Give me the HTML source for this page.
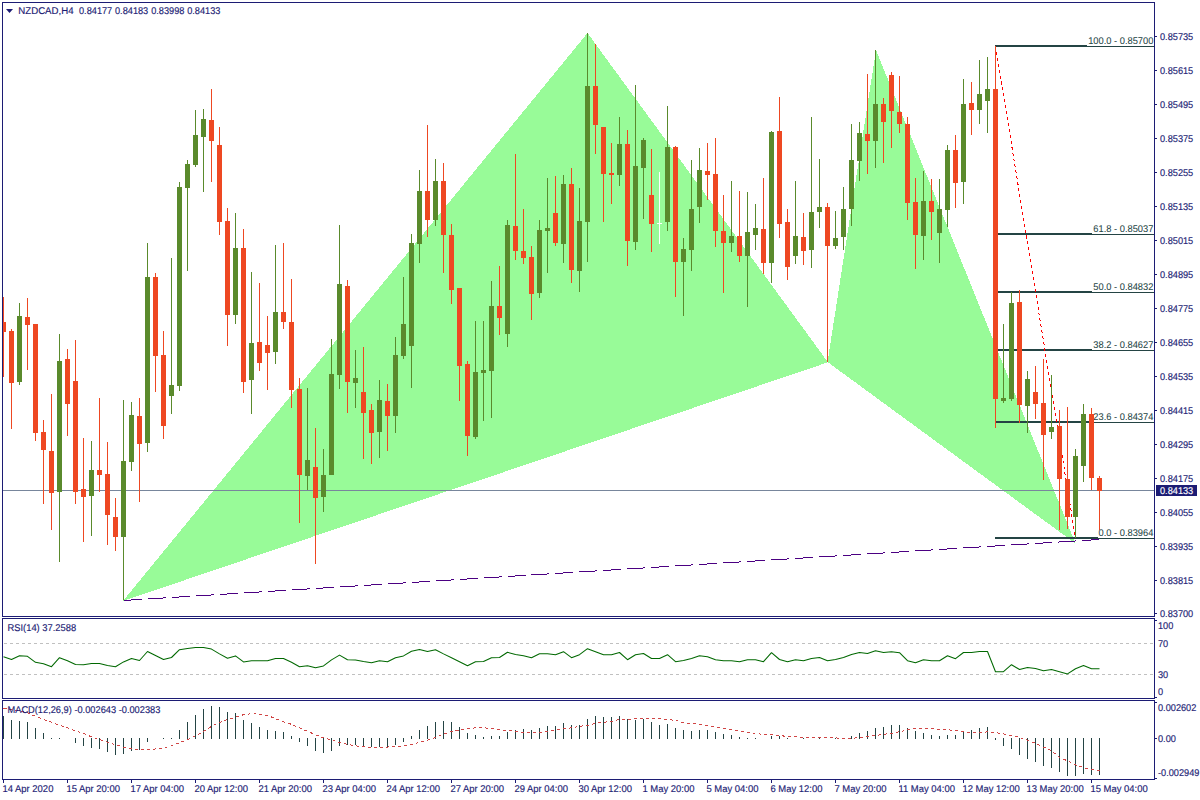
<!DOCTYPE html><html><head><meta charset="utf-8"><title>NZDCAD,H4</title>
<style>html,body{margin:0;padding:0;background:#fff;}body{width:1200px;height:800px;overflow:hidden;position:relative;}svg{position:absolute;left:0;top:0;display:block;}text{font-family:"Liberation Sans",sans-serif;font-size:9.8px;fill:#1c1c74;text-rendering:geometricPrecision;stroke:#1c1c74;stroke-width:0.15px;}.f{fill:#244444;stroke:#244444;stroke-width:0.05px;}.w{fill:#fff;}</style></head><body>
<svg width="1200" height="800" viewBox="0 0 1200 800">
<rect x="0" y="0" width="1200" height="800" fill="#fff"/>
<defs><clipPath id="cm"><rect x="3" y="3" width="1151" height="613"/></clipPath></defs>
<g shape-rendering="crispEdges">
<g clip-path="url(#cm)">
<polygon points="123,601 587.5,33 828,362.3" fill="#98fb98"/>
<polygon points="827.5,362 876,50 1075.5,543.5" fill="#98fb98"/>
<rect x="3" y="490" width="1151" height="1" fill="#78869c"/>
<line x1="123.5" y1="600.5" x2="1099" y2="539.5" stroke="#4b0082" stroke-width="1" stroke-dasharray="18 6" stroke-dashoffset="-0.8"/>
<rect x="995" y="45" width="92" height="2" fill="#244444"/>
<rect x="1087" y="46" width="67" height="1" fill="#244444"/>
<rect x="995" y="233" width="97" height="2" fill="#244444"/>
<rect x="1092" y="234" width="62" height="1" fill="#244444"/>
<rect x="995" y="291" width="97" height="2" fill="#244444"/>
<rect x="1092" y="292" width="62" height="1" fill="#244444"/>
<rect x="995" y="349" width="97" height="2" fill="#244444"/>
<rect x="1092" y="350" width="62" height="1" fill="#244444"/>
<rect x="995" y="421" width="97" height="2" fill="#244444"/>
<rect x="1092" y="422" width="62" height="1" fill="#244444"/>
<rect x="995" y="537" width="103" height="2" fill="#244444"/>
<rect x="1098" y="538" width="56" height="1" fill="#244444"/>
<line x1="995.5" y1="46" x2="1075.5" y2="538" stroke="#ff0000" stroke-width="1" stroke-dasharray="3 3"/>
<rect x="3" y="297" width="1" height="80" fill="#ee4822"/>
<rect x="1" y="322" width="5" height="10" fill="#ee4822"/>
<rect x="11" y="329" width="1" height="100" fill="#ee4822"/>
<rect x="9" y="331" width="5" height="52" fill="#ee4822"/>
<rect x="19" y="303" width="1" height="82" fill="#5a8a2c"/>
<rect x="17" y="316" width="5" height="66" fill="#5a8a2c"/>
<rect x="27" y="298" width="1" height="72" fill="#ee4822"/>
<rect x="25" y="317" width="5" height="8" fill="#ee4822"/>
<rect x="35" y="324" width="1" height="117" fill="#ee4822"/>
<rect x="33" y="324" width="5" height="109" fill="#ee4822"/>
<rect x="43" y="420" width="1" height="84" fill="#ee4822"/>
<rect x="41" y="432" width="5" height="18" fill="#ee4822"/>
<rect x="51" y="394" width="1" height="136" fill="#ee4822"/>
<rect x="49" y="451" width="5" height="42" fill="#ee4822"/>
<rect x="59" y="334" width="1" height="228" fill="#5a8a2c"/>
<rect x="57" y="361" width="5" height="131" fill="#5a8a2c"/>
<rect x="67" y="349" width="1" height="87" fill="#ee4822"/>
<rect x="65" y="359" width="5" height="45" fill="#ee4822"/>
<rect x="75" y="340" width="1" height="164" fill="#ee4822"/>
<rect x="73" y="381" width="5" height="111" fill="#ee4822"/>
<rect x="83" y="438" width="1" height="104" fill="#ee4822"/>
<rect x="81" y="489" width="5" height="8" fill="#ee4822"/>
<rect x="91" y="441" width="1" height="95" fill="#5a8a2c"/>
<rect x="89" y="470" width="5" height="26" fill="#5a8a2c"/>
<rect x="99" y="398" width="1" height="94" fill="#ee4822"/>
<rect x="97" y="470" width="5" height="5" fill="#ee4822"/>
<rect x="107" y="442" width="1" height="103" fill="#ee4822"/>
<rect x="105" y="474" width="5" height="41" fill="#ee4822"/>
<rect x="115" y="498" width="1" height="53" fill="#ee4822"/>
<rect x="113" y="517" width="5" height="20" fill="#ee4822"/>
<rect x="123" y="400" width="1" height="200" fill="#5a8a2c"/>
<rect x="121" y="461" width="5" height="76" fill="#5a8a2c"/>
<rect x="131" y="402" width="1" height="69" fill="#5a8a2c"/>
<rect x="129" y="415" width="5" height="47" fill="#5a8a2c"/>
<rect x="139" y="398" width="1" height="104" fill="#ee4822"/>
<rect x="137" y="416" width="5" height="28" fill="#ee4822"/>
<rect x="147" y="243" width="1" height="209" fill="#5a8a2c"/>
<rect x="145" y="277" width="5" height="166" fill="#5a8a2c"/>
<rect x="155" y="273" width="1" height="119" fill="#ee4822"/>
<rect x="153" y="277" width="5" height="79" fill="#ee4822"/>
<rect x="163" y="331" width="1" height="108" fill="#ee4822"/>
<rect x="161" y="355" width="5" height="71" fill="#ee4822"/>
<rect x="171" y="258" width="1" height="156" fill="#5a8a2c"/>
<rect x="169" y="385" width="5" height="11" fill="#5a8a2c"/>
<rect x="179" y="182" width="1" height="209" fill="#5a8a2c"/>
<rect x="177" y="187" width="5" height="199" fill="#5a8a2c"/>
<rect x="187" y="160" width="1" height="111" fill="#5a8a2c"/>
<rect x="185" y="164" width="5" height="24" fill="#5a8a2c"/>
<rect x="195" y="110" width="1" height="57" fill="#5a8a2c"/>
<rect x="193" y="135" width="5" height="30" fill="#5a8a2c"/>
<rect x="203" y="109" width="1" height="83" fill="#5a8a2c"/>
<rect x="201" y="119" width="5" height="18" fill="#5a8a2c"/>
<rect x="211" y="89" width="1" height="93" fill="#ee4822"/>
<rect x="209" y="120" width="5" height="21" fill="#ee4822"/>
<rect x="219" y="127" width="1" height="108" fill="#ee4822"/>
<rect x="217" y="145" width="5" height="77" fill="#ee4822"/>
<rect x="227" y="208" width="1" height="138" fill="#ee4822"/>
<rect x="225" y="221" width="5" height="94" fill="#ee4822"/>
<rect x="235" y="213" width="1" height="111" fill="#5a8a2c"/>
<rect x="233" y="248" width="5" height="67" fill="#5a8a2c"/>
<rect x="243" y="229" width="1" height="164" fill="#ee4822"/>
<rect x="241" y="248" width="5" height="134" fill="#ee4822"/>
<rect x="251" y="272" width="1" height="142" fill="#5a8a2c"/>
<rect x="249" y="343" width="5" height="37" fill="#5a8a2c"/>
<rect x="259" y="283" width="1" height="88" fill="#ee4822"/>
<rect x="257" y="342" width="5" height="21" fill="#ee4822"/>
<rect x="267" y="316" width="1" height="74" fill="#ee4822"/>
<rect x="265" y="345" width="5" height="8" fill="#ee4822"/>
<rect x="275" y="245" width="1" height="119" fill="#5a8a2c"/>
<rect x="273" y="312" width="5" height="40" fill="#5a8a2c"/>
<rect x="283" y="243" width="1" height="86" fill="#ee4822"/>
<rect x="281" y="312" width="5" height="10" fill="#ee4822"/>
<rect x="291" y="279" width="1" height="129" fill="#ee4822"/>
<rect x="289" y="322" width="5" height="68" fill="#ee4822"/>
<rect x="299" y="378" width="1" height="145" fill="#ee4822"/>
<rect x="297" y="389" width="5" height="86" fill="#ee4822"/>
<rect x="307" y="388" width="1" height="102" fill="#5a8a2c"/>
<rect x="305" y="460" width="5" height="16" fill="#5a8a2c"/>
<rect x="315" y="428" width="1" height="136" fill="#ee4822"/>
<rect x="313" y="467" width="5" height="31" fill="#ee4822"/>
<rect x="323" y="449" width="1" height="63" fill="#5a8a2c"/>
<rect x="321" y="475" width="5" height="22" fill="#5a8a2c"/>
<rect x="331" y="339" width="1" height="136" fill="#5a8a2c"/>
<rect x="329" y="374" width="5" height="101" fill="#5a8a2c"/>
<rect x="339" y="225" width="1" height="164" fill="#5a8a2c"/>
<rect x="337" y="284" width="5" height="91" fill="#5a8a2c"/>
<rect x="347" y="280" width="1" height="133" fill="#ee4822"/>
<rect x="345" y="286" width="5" height="96" fill="#ee4822"/>
<rect x="355" y="350" width="1" height="58" fill="#5a8a2c"/>
<rect x="353" y="378" width="5" height="5" fill="#5a8a2c"/>
<rect x="363" y="347" width="1" height="112" fill="#ee4822"/>
<rect x="361" y="392" width="5" height="21" fill="#ee4822"/>
<rect x="371" y="404" width="1" height="60" fill="#ee4822"/>
<rect x="369" y="410" width="5" height="23" fill="#ee4822"/>
<rect x="379" y="380" width="1" height="78" fill="#5a8a2c"/>
<rect x="377" y="400" width="5" height="32" fill="#5a8a2c"/>
<rect x="387" y="384" width="1" height="67" fill="#ee4822"/>
<rect x="385" y="401" width="5" height="15" fill="#ee4822"/>
<rect x="395" y="337" width="1" height="96" fill="#5a8a2c"/>
<rect x="393" y="355" width="5" height="61" fill="#5a8a2c"/>
<rect x="403" y="277" width="1" height="82" fill="#5a8a2c"/>
<rect x="401" y="324" width="5" height="32" fill="#5a8a2c"/>
<rect x="411" y="234" width="1" height="154" fill="#5a8a2c"/>
<rect x="409" y="243" width="5" height="103" fill="#5a8a2c"/>
<rect x="419" y="170" width="1" height="93" fill="#5a8a2c"/>
<rect x="417" y="191" width="5" height="53" fill="#5a8a2c"/>
<rect x="427" y="125" width="1" height="112" fill="#ee4822"/>
<rect x="425" y="191" width="5" height="29" fill="#ee4822"/>
<rect x="435" y="159" width="1" height="67" fill="#5a8a2c"/>
<rect x="433" y="181" width="5" height="39" fill="#5a8a2c"/>
<rect x="443" y="163" width="1" height="110" fill="#ee4822"/>
<rect x="441" y="181" width="5" height="54" fill="#ee4822"/>
<rect x="451" y="224" width="1" height="80" fill="#ee4822"/>
<rect x="449" y="235" width="5" height="55" fill="#ee4822"/>
<rect x="459" y="288" width="1" height="113" fill="#ee4822"/>
<rect x="457" y="288" width="5" height="78" fill="#ee4822"/>
<rect x="467" y="361" width="1" height="95" fill="#ee4822"/>
<rect x="465" y="364" width="5" height="72" fill="#ee4822"/>
<rect x="475" y="321" width="1" height="118" fill="#5a8a2c"/>
<rect x="473" y="372" width="5" height="65" fill="#5a8a2c"/>
<rect x="483" y="321" width="1" height="100" fill="#5a8a2c"/>
<rect x="481" y="370" width="5" height="3" fill="#5a8a2c"/>
<rect x="491" y="281" width="1" height="137" fill="#5a8a2c"/>
<rect x="489" y="306" width="5" height="65" fill="#5a8a2c"/>
<rect x="499" y="266" width="1" height="69" fill="#ee4822"/>
<rect x="497" y="306" width="5" height="12" fill="#ee4822"/>
<rect x="507" y="220" width="1" height="127" fill="#5a8a2c"/>
<rect x="505" y="225" width="5" height="109" fill="#5a8a2c"/>
<rect x="515" y="154" width="1" height="106" fill="#ee4822"/>
<rect x="513" y="226" width="5" height="25" fill="#ee4822"/>
<rect x="523" y="209" width="1" height="55" fill="#ee4822"/>
<rect x="521" y="251" width="5" height="7" fill="#ee4822"/>
<rect x="531" y="246" width="1" height="74" fill="#ee4822"/>
<rect x="529" y="257" width="5" height="37" fill="#ee4822"/>
<rect x="539" y="220" width="1" height="78" fill="#5a8a2c"/>
<rect x="537" y="230" width="5" height="63" fill="#5a8a2c"/>
<rect x="547" y="178" width="1" height="95" fill="#5a8a2c"/>
<rect x="545" y="228" width="5" height="3" fill="#5a8a2c"/>
<rect x="555" y="176" width="1" height="70" fill="#ee4822"/>
<rect x="553" y="213" width="5" height="30" fill="#ee4822"/>
<rect x="563" y="175" width="1" height="88" fill="#5a8a2c"/>
<rect x="561" y="184" width="5" height="60" fill="#5a8a2c"/>
<rect x="571" y="168" width="1" height="115" fill="#ee4822"/>
<rect x="569" y="184" width="5" height="86" fill="#ee4822"/>
<rect x="579" y="188" width="1" height="104" fill="#5a8a2c"/>
<rect x="577" y="221" width="5" height="50" fill="#5a8a2c"/>
<rect x="587" y="33" width="1" height="229" fill="#5a8a2c"/>
<rect x="585" y="86" width="5" height="136" fill="#5a8a2c"/>
<rect x="595" y="44" width="1" height="110" fill="#ee4822"/>
<rect x="593" y="86" width="5" height="39" fill="#ee4822"/>
<rect x="603" y="127" width="1" height="95" fill="#ee4822"/>
<rect x="601" y="127" width="5" height="47" fill="#ee4822"/>
<rect x="611" y="143" width="1" height="61" fill="#ee4822"/>
<rect x="609" y="173" width="5" height="2" fill="#ee4822"/>
<rect x="619" y="117" width="1" height="69" fill="#5a8a2c"/>
<rect x="617" y="144" width="5" height="31" fill="#5a8a2c"/>
<rect x="627" y="130" width="1" height="136" fill="#ee4822"/>
<rect x="625" y="144" width="5" height="97" fill="#ee4822"/>
<rect x="635" y="85" width="1" height="165" fill="#5a8a2c"/>
<rect x="633" y="166" width="5" height="76" fill="#5a8a2c"/>
<rect x="643" y="138" width="1" height="81" fill="#5a8a2c"/>
<rect x="641" y="140" width="5" height="28" fill="#5a8a2c"/>
<rect x="651" y="149" width="1" height="103" fill="#ee4822"/>
<rect x="649" y="195" width="5" height="29" fill="#ee4822"/>
<rect x="659" y="172" width="1" height="72" fill="#ffffff"/>
<rect x="657" y="223" width="5" height="1" fill="#ffffff"/>
<rect x="667" y="106" width="1" height="125" fill="#5a8a2c"/>
<rect x="665" y="147" width="5" height="75" fill="#5a8a2c"/>
<rect x="675" y="146" width="1" height="151" fill="#ee4822"/>
<rect x="673" y="147" width="5" height="115" fill="#ee4822"/>
<rect x="683" y="238" width="1" height="78" fill="#5a8a2c"/>
<rect x="681" y="249" width="5" height="13" fill="#5a8a2c"/>
<rect x="691" y="160" width="1" height="111" fill="#5a8a2c"/>
<rect x="689" y="209" width="5" height="41" fill="#5a8a2c"/>
<rect x="699" y="148" width="1" height="75" fill="#5a8a2c"/>
<rect x="697" y="170" width="5" height="37" fill="#5a8a2c"/>
<rect x="707" y="143" width="1" height="57" fill="#ee4822"/>
<rect x="705" y="171" width="5" height="4" fill="#ee4822"/>
<rect x="715" y="138" width="1" height="109" fill="#ee4822"/>
<rect x="713" y="174" width="5" height="57" fill="#ee4822"/>
<rect x="723" y="195" width="1" height="98" fill="#ee4822"/>
<rect x="721" y="231" width="5" height="12" fill="#ee4822"/>
<rect x="731" y="181" width="1" height="71" fill="#5a8a2c"/>
<rect x="729" y="236" width="5" height="7" fill="#5a8a2c"/>
<rect x="739" y="191" width="1" height="71" fill="#ee4822"/>
<rect x="737" y="236" width="5" height="20" fill="#ee4822"/>
<rect x="747" y="192" width="1" height="115" fill="#5a8a2c"/>
<rect x="745" y="232" width="5" height="24" fill="#5a8a2c"/>
<rect x="755" y="204" width="1" height="46" fill="#5a8a2c"/>
<rect x="753" y="228" width="5" height="7" fill="#5a8a2c"/>
<rect x="763" y="178" width="1" height="96" fill="#ee4822"/>
<rect x="761" y="229" width="5" height="34" fill="#ee4822"/>
<rect x="771" y="131" width="1" height="152" fill="#5a8a2c"/>
<rect x="769" y="132" width="5" height="131" fill="#5a8a2c"/>
<rect x="779" y="97" width="1" height="141" fill="#ee4822"/>
<rect x="777" y="131" width="5" height="93" fill="#ee4822"/>
<rect x="787" y="209" width="1" height="71" fill="#ee4822"/>
<rect x="785" y="222" width="5" height="45" fill="#ee4822"/>
<rect x="795" y="181" width="1" height="83" fill="#5a8a2c"/>
<rect x="793" y="236" width="5" height="20" fill="#5a8a2c"/>
<rect x="803" y="213" width="1" height="52" fill="#ee4822"/>
<rect x="801" y="237" width="5" height="14" fill="#ee4822"/>
<rect x="811" y="117" width="1" height="151" fill="#5a8a2c"/>
<rect x="809" y="212" width="5" height="38" fill="#5a8a2c"/>
<rect x="819" y="159" width="1" height="69" fill="#5a8a2c"/>
<rect x="817" y="207" width="5" height="5" fill="#5a8a2c"/>
<rect x="827" y="203" width="1" height="159" fill="#ee4822"/>
<rect x="825" y="207" width="5" height="39" fill="#ee4822"/>
<rect x="835" y="211" width="1" height="38" fill="#5a8a2c"/>
<rect x="833" y="238" width="5" height="8" fill="#5a8a2c"/>
<rect x="843" y="187" width="1" height="63" fill="#5a8a2c"/>
<rect x="841" y="209" width="5" height="28" fill="#5a8a2c"/>
<rect x="851" y="124" width="1" height="102" fill="#5a8a2c"/>
<rect x="849" y="160" width="5" height="49" fill="#5a8a2c"/>
<rect x="859" y="122" width="1" height="59" fill="#5a8a2c"/>
<rect x="857" y="133" width="5" height="28" fill="#5a8a2c"/>
<rect x="867" y="74" width="1" height="100" fill="#ee4822"/>
<rect x="865" y="134" width="5" height="7" fill="#ee4822"/>
<rect x="875" y="50" width="1" height="118" fill="#5a8a2c"/>
<rect x="873" y="104" width="5" height="37" fill="#5a8a2c"/>
<rect x="883" y="98" width="1" height="65" fill="#ee4822"/>
<rect x="881" y="104" width="5" height="18" fill="#ee4822"/>
<rect x="891" y="72" width="1" height="76" fill="#ee4822"/>
<rect x="889" y="75" width="5" height="36" fill="#ee4822"/>
<rect x="899" y="76" width="1" height="57" fill="#ee4822"/>
<rect x="897" y="112" width="5" height="12" fill="#ee4822"/>
<rect x="907" y="117" width="1" height="103" fill="#ee4822"/>
<rect x="905" y="124" width="5" height="79" fill="#ee4822"/>
<rect x="915" y="178" width="1" height="91" fill="#ee4822"/>
<rect x="913" y="202" width="5" height="33" fill="#ee4822"/>
<rect x="923" y="171" width="1" height="89" fill="#5a8a2c"/>
<rect x="921" y="201" width="5" height="35" fill="#5a8a2c"/>
<rect x="931" y="179" width="1" height="61" fill="#ee4822"/>
<rect x="929" y="201" width="5" height="11" fill="#ee4822"/>
<rect x="939" y="179" width="1" height="84" fill="#5a8a2c"/>
<rect x="937" y="209" width="5" height="24" fill="#5a8a2c"/>
<rect x="947" y="145" width="1" height="82" fill="#5a8a2c"/>
<rect x="945" y="150" width="5" height="60" fill="#5a8a2c"/>
<rect x="955" y="135" width="1" height="73" fill="#ee4822"/>
<rect x="953" y="150" width="5" height="33" fill="#ee4822"/>
<rect x="963" y="79" width="1" height="125" fill="#5a8a2c"/>
<rect x="961" y="104" width="5" height="78" fill="#5a8a2c"/>
<rect x="971" y="82" width="1" height="53" fill="#ee4822"/>
<rect x="969" y="103" width="5" height="7" fill="#ee4822"/>
<rect x="979" y="60" width="1" height="64" fill="#5a8a2c"/>
<rect x="977" y="94" width="5" height="16" fill="#5a8a2c"/>
<rect x="987" y="57" width="1" height="76" fill="#5a8a2c"/>
<rect x="985" y="89" width="5" height="12" fill="#5a8a2c"/>
<rect x="995" y="46" width="1" height="382" fill="#ee4822"/>
<rect x="993" y="89" width="5" height="310" fill="#ee4822"/>
<rect x="1003" y="324" width="1" height="79" fill="#5a8a2c"/>
<rect x="1001" y="398" width="5" height="3" fill="#5a8a2c"/>
<rect x="1011" y="292" width="1" height="109" fill="#5a8a2c"/>
<rect x="1009" y="303" width="5" height="96" fill="#5a8a2c"/>
<rect x="1019" y="290" width="1" height="133" fill="#ee4822"/>
<rect x="1017" y="302" width="5" height="103" fill="#ee4822"/>
<rect x="1027" y="371" width="1" height="62" fill="#5a8a2c"/>
<rect x="1025" y="379" width="5" height="27" fill="#5a8a2c"/>
<rect x="1035" y="366" width="1" height="53" fill="#ee4822"/>
<rect x="1033" y="392" width="5" height="12" fill="#ee4822"/>
<rect x="1043" y="359" width="1" height="121" fill="#ee4822"/>
<rect x="1041" y="403" width="5" height="32" fill="#ee4822"/>
<rect x="1051" y="375" width="1" height="64" fill="#5a8a2c"/>
<rect x="1049" y="427" width="5" height="5" fill="#5a8a2c"/>
<rect x="1059" y="410" width="1" height="120" fill="#ee4822"/>
<rect x="1057" y="426" width="5" height="53" fill="#ee4822"/>
<rect x="1067" y="407" width="1" height="122" fill="#ee4822"/>
<rect x="1065" y="479" width="5" height="38" fill="#ee4822"/>
<rect x="1075" y="449" width="1" height="89" fill="#5a8a2c"/>
<rect x="1073" y="456" width="5" height="61" fill="#5a8a2c"/>
<rect x="1083" y="404" width="1" height="78" fill="#5a8a2c"/>
<rect x="1081" y="414" width="5" height="52" fill="#5a8a2c"/>
<rect x="1091" y="408" width="1" height="82" fill="#ee4822"/>
<rect x="1089" y="414" width="5" height="64" fill="#ee4822"/>
<rect x="1099" y="476" width="1" height="54" fill="#ee4822"/>
<rect x="1097" y="478" width="5" height="13" fill="#ee4822"/>
</g>
<rect x="2" y="2" width="1153" height="1" fill="#1c1c74"/>
<rect x="2" y="616" width="1153" height="1" fill="#1c1c74"/>
<rect x="2" y="2" width="1" height="615" fill="#1c1c74"/>
<rect x="1154" y="2" width="1" height="615" fill="#1c1c74"/>
<rect x="2" y="618" width="1153" height="1" fill="#1c1c74"/>
<rect x="2" y="698" width="1153" height="1" fill="#1c1c74"/>
<rect x="2" y="618" width="1" height="81" fill="#1c1c74"/>
<rect x="1154" y="618" width="1" height="81" fill="#1c1c74"/>
<rect x="2" y="700" width="1153" height="1" fill="#1c1c74"/>
<rect x="2" y="779" width="1153" height="1" fill="#1c1c74"/>
<rect x="2" y="700" width="1" height="80" fill="#1c1c74"/>
<rect x="1154" y="700" width="1" height="80" fill="#1c1c74"/>
<rect x="1155" y="36" width="2" height="1" fill="#1c1c74"/>
<rect x="1155" y="70" width="2" height="1" fill="#1c1c74"/>
<rect x="1155" y="104" width="2" height="1" fill="#1c1c74"/>
<rect x="1155" y="138" width="2" height="1" fill="#1c1c74"/>
<rect x="1155" y="172" width="2" height="1" fill="#1c1c74"/>
<rect x="1155" y="206" width="2" height="1" fill="#1c1c74"/>
<rect x="1155" y="240" width="2" height="1" fill="#1c1c74"/>
<rect x="1155" y="274" width="2" height="1" fill="#1c1c74"/>
<rect x="1155" y="308" width="2" height="1" fill="#1c1c74"/>
<rect x="1155" y="342" width="2" height="1" fill="#1c1c74"/>
<rect x="1155" y="376" width="2" height="1" fill="#1c1c74"/>
<rect x="1155" y="410" width="2" height="1" fill="#1c1c74"/>
<rect x="1155" y="444" width="2" height="1" fill="#1c1c74"/>
<rect x="1155" y="478" width="2" height="1" fill="#1c1c74"/>
<rect x="1155" y="512" width="2" height="1" fill="#1c1c74"/>
<rect x="1155" y="546" width="2" height="1" fill="#1c1c74"/>
<rect x="1155" y="580" width="2" height="1" fill="#1c1c74"/>
<rect x="1155" y="613" width="2" height="1" fill="#1c1c74"/>
<line x1="4" y1="643.5" x2="1154" y2="643.5" stroke="#c0c0c0" stroke-width="1" stroke-dasharray="3 3"/>
<line x1="4" y1="674.5" x2="1154" y2="674.5" stroke="#c0c0c0" stroke-width="1" stroke-dasharray="3 3"/>
<rect x="3" y="716" width="1" height="23" fill="#244444"/>
<rect x="11" y="720" width="1" height="19" fill="#244444"/>
<rect x="19" y="721" width="1" height="18" fill="#244444"/>
<rect x="27" y="722" width="1" height="17" fill="#244444"/>
<rect x="35" y="728" width="1" height="11" fill="#244444"/>
<rect x="43" y="733" width="1" height="6" fill="#244444"/>
<rect x="51" y="738" width="1" height="1" fill="#244444"/>
<rect x="59" y="738" width="1" height="1" fill="#244444"/>
<rect x="75" y="738" width="1" height="5" fill="#244444"/>
<rect x="83" y="738" width="1" height="8" fill="#244444"/>
<rect x="91" y="738" width="1" height="10" fill="#244444"/>
<rect x="99" y="738" width="1" height="11" fill="#244444"/>
<rect x="107" y="738" width="1" height="14" fill="#244444"/>
<rect x="115" y="738" width="1" height="17" fill="#244444"/>
<rect x="123" y="738" width="1" height="16" fill="#244444"/>
<rect x="131" y="738" width="1" height="13" fill="#244444"/>
<rect x="139" y="738" width="1" height="12" fill="#244444"/>
<rect x="147" y="738" width="1" height="4" fill="#244444"/>
<rect x="163" y="738" width="1" height="1" fill="#244444"/>
<rect x="171" y="738" width="1" height="1" fill="#244444"/>
<rect x="179" y="730" width="1" height="9" fill="#244444"/>
<rect x="187" y="722" width="1" height="17" fill="#244444"/>
<rect x="195" y="715" width="1" height="24" fill="#244444"/>
<rect x="203" y="709" width="1" height="30" fill="#244444"/>
<rect x="211" y="706" width="1" height="33" fill="#244444"/>
<rect x="219" y="707" width="1" height="32" fill="#244444"/>
<rect x="227" y="712" width="1" height="27" fill="#244444"/>
<rect x="235" y="713" width="1" height="26" fill="#244444"/>
<rect x="243" y="720" width="1" height="19" fill="#244444"/>
<rect x="251" y="723" width="1" height="16" fill="#244444"/>
<rect x="259" y="727" width="1" height="12" fill="#244444"/>
<rect x="267" y="730" width="1" height="9" fill="#244444"/>
<rect x="275" y="731" width="1" height="8" fill="#244444"/>
<rect x="283" y="732" width="1" height="7" fill="#244444"/>
<rect x="291" y="736" width="1" height="3" fill="#244444"/>
<rect x="299" y="738" width="1" height="4" fill="#244444"/>
<rect x="307" y="738" width="1" height="8" fill="#244444"/>
<rect x="315" y="738" width="1" height="13" fill="#244444"/>
<rect x="323" y="738" width="1" height="15" fill="#244444"/>
<rect x="331" y="738" width="1" height="13" fill="#244444"/>
<rect x="339" y="738" width="1" height="8" fill="#244444"/>
<rect x="347" y="738" width="1" height="7" fill="#244444"/>
<rect x="355" y="738" width="1" height="7" fill="#244444"/>
<rect x="363" y="738" width="1" height="8" fill="#244444"/>
<rect x="371" y="738" width="1" height="9" fill="#244444"/>
<rect x="379" y="738" width="1" height="9" fill="#244444"/>
<rect x="387" y="738" width="1" height="9" fill="#244444"/>
<rect x="395" y="738" width="1" height="7" fill="#244444"/>
<rect x="403" y="738" width="1" height="4" fill="#244444"/>
<rect x="411" y="736" width="1" height="3" fill="#244444"/>
<rect x="419" y="730" width="1" height="9" fill="#244444"/>
<rect x="427" y="726" width="1" height="13" fill="#244444"/>
<rect x="435" y="722" width="1" height="17" fill="#244444"/>
<rect x="443" y="721" width="1" height="18" fill="#244444"/>
<rect x="451" y="722" width="1" height="17" fill="#244444"/>
<rect x="459" y="727" width="1" height="12" fill="#244444"/>
<rect x="467" y="733" width="1" height="6" fill="#244444"/>
<rect x="475" y="735" width="1" height="4" fill="#244444"/>
<rect x="483" y="737" width="1" height="2" fill="#244444"/>
<rect x="491" y="736" width="1" height="3" fill="#244444"/>
<rect x="499" y="736" width="1" height="3" fill="#244444"/>
<rect x="507" y="732" width="1" height="7" fill="#244444"/>
<rect x="515" y="730" width="1" height="9" fill="#244444"/>
<rect x="523" y="729" width="1" height="10" fill="#244444"/>
<rect x="531" y="730" width="1" height="9" fill="#244444"/>
<rect x="539" y="728" width="1" height="11" fill="#244444"/>
<rect x="547" y="726" width="1" height="13" fill="#244444"/>
<rect x="555" y="726" width="1" height="13" fill="#244444"/>
<rect x="563" y="723" width="1" height="16" fill="#244444"/>
<rect x="571" y="725" width="1" height="14" fill="#244444"/>
<rect x="579" y="725" width="1" height="14" fill="#244444"/>
<rect x="587" y="719" width="1" height="20" fill="#244444"/>
<rect x="595" y="716" width="1" height="23" fill="#244444"/>
<rect x="603" y="717" width="1" height="22" fill="#244444"/>
<rect x="611" y="717" width="1" height="22" fill="#244444"/>
<rect x="619" y="716" width="1" height="23" fill="#244444"/>
<rect x="627" y="719" width="1" height="20" fill="#244444"/>
<rect x="635" y="720" width="1" height="19" fill="#244444"/>
<rect x="643" y="719" width="1" height="20" fill="#244444"/>
<rect x="651" y="722" width="1" height="17" fill="#244444"/>
<rect x="659" y="725" width="1" height="14" fill="#244444"/>
<rect x="667" y="724" width="1" height="15" fill="#244444"/>
<rect x="675" y="728" width="1" height="11" fill="#244444"/>
<rect x="683" y="730" width="1" height="9" fill="#244444"/>
<rect x="691" y="731" width="1" height="8" fill="#244444"/>
<rect x="699" y="730" width="1" height="9" fill="#244444"/>
<rect x="707" y="730" width="1" height="9" fill="#244444"/>
<rect x="715" y="732" width="1" height="7" fill="#244444"/>
<rect x="723" y="734" width="1" height="5" fill="#244444"/>
<rect x="731" y="735" width="1" height="4" fill="#244444"/>
<rect x="739" y="737" width="1" height="2" fill="#244444"/>
<rect x="747" y="738" width="1" height="1" fill="#244444"/>
<rect x="755" y="738" width="1" height="1" fill="#244444"/>
<rect x="771" y="736" width="1" height="3" fill="#244444"/>
<rect x="779" y="736" width="1" height="3" fill="#244444"/>
<rect x="787" y="738" width="1" height="1" fill="#244444"/>
<rect x="803" y="738" width="1" height="1" fill="#244444"/>
<rect x="819" y="738" width="1" height="1" fill="#244444"/>
<rect x="835" y="738" width="1" height="1" fill="#244444"/>
<rect x="851" y="736" width="1" height="3" fill="#244444"/>
<rect x="859" y="733" width="1" height="6" fill="#244444"/>
<rect x="867" y="731" width="1" height="8" fill="#244444"/>
<rect x="875" y="728" width="1" height="11" fill="#244444"/>
<rect x="883" y="727" width="1" height="12" fill="#244444"/>
<rect x="891" y="725" width="1" height="14" fill="#244444"/>
<rect x="899" y="725" width="1" height="14" fill="#244444"/>
<rect x="907" y="728" width="1" height="11" fill="#244444"/>
<rect x="915" y="731" width="1" height="8" fill="#244444"/>
<rect x="923" y="733" width="1" height="6" fill="#244444"/>
<rect x="931" y="735" width="1" height="4" fill="#244444"/>
<rect x="939" y="736" width="1" height="3" fill="#244444"/>
<rect x="947" y="735" width="1" height="4" fill="#244444"/>
<rect x="955" y="735" width="1" height="4" fill="#244444"/>
<rect x="963" y="732" width="1" height="7" fill="#244444"/>
<rect x="971" y="730" width="1" height="9" fill="#244444"/>
<rect x="979" y="728" width="1" height="11" fill="#244444"/>
<rect x="987" y="727" width="1" height="12" fill="#244444"/>
<rect x="995" y="738" width="1" height="2" fill="#244444"/>
<rect x="1003" y="738" width="1" height="8" fill="#244444"/>
<rect x="1011" y="738" width="1" height="11" fill="#244444"/>
<rect x="1019" y="738" width="1" height="17" fill="#244444"/>
<rect x="1027" y="738" width="1" height="21" fill="#244444"/>
<rect x="1035" y="738" width="1" height="24" fill="#244444"/>
<rect x="1043" y="738" width="1" height="28" fill="#244444"/>
<rect x="1051" y="738" width="1" height="30" fill="#244444"/>
<rect x="1059" y="738" width="1" height="34" fill="#244444"/>
<rect x="1067" y="738" width="1" height="38" fill="#244444"/>
<rect x="1075" y="738" width="1" height="38" fill="#244444"/>
<rect x="1083" y="738" width="1" height="36" fill="#244444"/>
<rect x="1091" y="738" width="1" height="37" fill="#244444"/>
<rect x="1099" y="738" width="1" height="37" fill="#244444"/>
<rect x="1155" y="620" width="2" height="1" fill="#1c1c74"/>
<rect x="1155" y="697" width="2" height="1" fill="#1c1c74"/>
<rect x="1155" y="702" width="2" height="1" fill="#1c1c74"/>
<rect x="1155" y="738" width="2" height="1" fill="#1c1c74"/>
<rect x="1155" y="778" width="2" height="1" fill="#1c1c74"/>
<rect x="3" y="780" width="1" height="3" fill="#1c1c74"/>
<rect x="67" y="780" width="1" height="3" fill="#1c1c74"/>
<rect x="131" y="780" width="1" height="3" fill="#1c1c74"/>
<rect x="195" y="780" width="1" height="3" fill="#1c1c74"/>
<rect x="259" y="780" width="1" height="3" fill="#1c1c74"/>
<rect x="323" y="780" width="1" height="3" fill="#1c1c74"/>
<rect x="387" y="780" width="1" height="3" fill="#1c1c74"/>
<rect x="451" y="780" width="1" height="3" fill="#1c1c74"/>
<rect x="515" y="780" width="1" height="3" fill="#1c1c74"/>
<rect x="579" y="780" width="1" height="3" fill="#1c1c74"/>
<rect x="643" y="780" width="1" height="3" fill="#1c1c74"/>
<rect x="707" y="780" width="1" height="3" fill="#1c1c74"/>
<rect x="771" y="780" width="1" height="3" fill="#1c1c74"/>
<rect x="835" y="780" width="1" height="3" fill="#1c1c74"/>
<rect x="899" y="780" width="1" height="3" fill="#1c1c74"/>
<rect x="963" y="780" width="1" height="3" fill="#1c1c74"/>
<rect x="1027" y="780" width="1" height="3" fill="#1c1c74"/>
<rect x="1091" y="780" width="1" height="3" fill="#1c1c74"/>
<rect x="1156" y="485" width="41" height="11" fill="#1c1c74"/>
</g>
<polyline points="3.5,656.7 11.5,659.5 19.5,655.7 27.5,656.3 35.5,662.3 43.5,663.7 51.5,666.7 59.5,657.7 67.5,660.7 75.5,664.5 83.5,664.7 91.5,663.5 99.5,663.5 107.5,665.5 115.5,666.7 123.5,661.9 131.5,658.5 139.5,660.5 147.5,651.5 155.5,655.5 163.5,659.5 171.5,657.5 179.5,649.7 187.5,648.5 195.5,647.5 203.5,647.5 211.5,649.1 219.5,653.9 227.5,658.3 235.5,655.9 243.5,661.9 251.5,660.7 259.5,660.7 267.5,660.7 275.5,658.5 283.5,658.5 291.5,662.3 299.5,666.7 307.5,665.7 315.5,667.7 323.5,665.9 331.5,659.9 339.5,655.1 347.5,659.7 355.5,659.9 363.5,661.5 371.5,662.7 379.5,660.7 387.5,661.7 395.5,657.7 403.5,655.9 411.5,651.3 419.5,649.5 427.5,651.5 435.5,649.7 443.5,653.9 451.5,657.7 459.5,661.7 467.5,665.7 475.5,661.7 483.5,661.5 491.5,657.7 499.5,657.5 507.5,652.3 515.5,654.5 523.5,655.7 531.5,657.7 539.5,653.7 547.5,653.7 555.5,654.7 563.5,651.7 571.5,657.7 579.5,654.7 587.5,648.7 595.5,651.7 603.5,654.7 611.5,654.7 619.5,652.5 627.5,659.7 635.5,654.7 643.5,653.5 651.5,658.5 659.5,658.5 667.5,654.7 675.5,661.7 683.5,660.5 691.5,658.5 699.5,655.7 707.5,656.7 715.5,659.7 723.5,660.7 731.5,660.7 739.5,661.7 747.5,659.7 755.5,659.7 763.5,661.7 771.5,652.7 779.5,659.5 787.5,661.7 795.5,659.7 803.5,660.7 811.5,658.5 819.5,657.5 827.5,660.7 835.5,659.5 843.5,657.5 851.5,654.5 859.5,652.5 867.5,653.5 875.5,650.7 883.5,652.5 891.5,651.7 899.5,652.7 907.5,660.7 915.5,662.7 923.5,659.7 931.5,660.7 939.5,660.7 947.5,655.7 955.5,658.7 963.5,652.5 971.5,652.5 979.5,651.5 987.5,651.5 995.5,671.7 1003.5,671.7 1011.5,664.7 1019.5,669.5 1027.5,667.5 1035.5,668.5 1043.5,670.7 1051.5,669.5 1059.5,671.7 1067.5,673.9 1075.5,668.7 1083.5,665.5 1091.5,668.7 1099.5,668.7" fill="none" stroke="#006800" stroke-width="1.05" stroke-linejoin="round"/>
<polyline points="3.5,708.3 11.5,709.8 19.5,711.3 27.5,712.7 35.5,716.3 43.5,719.3 51.5,722.3 59.5,725.3 67.5,727.9 75.5,730.8 83.5,733.3 91.5,736.9 99.5,739.3 107.5,742.3 115.5,744.7 123.5,747.1 131.5,748.7 139.5,749.9 147.5,749.9 155.5,748.9 163.5,747.9 171.5,745.9 179.5,742.7 187.5,739.9 195.5,735.9 203.5,731.3 211.5,726.3 219.5,722.7 227.5,719.3 235.5,717.3 243.5,714.7 251.5,713.7 259.5,714.3 267.5,715.3 275.5,718.7 283.5,721.9 291.5,724.3 299.5,727.9 307.5,731.3 315.5,734.7 323.5,737.9 331.5,739.9 339.5,742.3 347.5,744.3 355.5,745.9 363.5,746.7 371.5,747.5 379.5,747.5 387.5,747.1 395.5,746.3 403.5,745.9 411.5,744.3 419.5,742.3 427.5,740.3 435.5,737.3 443.5,734.3 451.5,731.3 459.5,729.9 467.5,728.7 475.5,727.9 483.5,727.9 491.5,728.3 499.5,729.9 507.5,730.3 515.5,731.3 523.5,732.7 531.5,732.7 539.5,732.3 547.5,731.3 555.5,729.9 563.5,728.7 571.5,727.9 579.5,726.3 587.5,725.3 595.5,723.3 603.5,722.3 611.5,721.3 619.5,719.3 627.5,719.3 635.5,718.7 643.5,718.7 651.5,718.7 659.5,718.7 667.5,719.7 675.5,720.3 683.5,722.7 691.5,723.7 699.5,724.3 707.5,725.3 715.5,726.9 723.5,728.3 731.5,729.5 739.5,730.9 747.5,732.3 755.5,733.3 763.5,734.7 771.5,734.7 779.5,735.3 787.5,736.7 795.5,736.7 803.5,737.7 811.5,737.9 819.5,737.9 827.5,737.9 835.5,737.9 843.5,738.7 851.5,738.3 859.5,737.7 867.5,736.3 875.5,735.7 883.5,734.3 891.5,733.3 899.5,731.7 907.5,729.9 915.5,728.7 923.5,728.7 931.5,728.7 939.5,729.5 947.5,729.7 955.5,730.7 963.5,731.7 971.5,732.7 979.5,732.7 987.5,731.9 995.5,732.7 1003.5,733.9 1011.5,735.7 1019.5,737.3 1027.5,740.3 1035.5,743.3 1043.5,747.1 1051.5,750.7 1059.5,757.3 1067.5,760.9 1075.5,764.7 1083.5,767.7 1091.5,769.7 1099.5,770.7" fill="none" stroke="#d04545" stroke-width="1" stroke-dasharray="3 3" shape-rendering="crispEdges"/>
<polygon points="6,9 13,9 9.5,13" fill="#1c1c74"/>
<text transform="translate(18.3,14) scale(0.985,1)">NZDCAD,H4</text>
<text transform="translate(79,14) scale(0.938,1)">0.84177</text>
<text transform="translate(115,14) scale(0.938,1)">0.84183</text>
<text transform="translate(151.2,14) scale(0.938,1)">0.83998</text>
<text transform="translate(187.2,14) scale(0.938,1)">0.84133</text>
<text transform="translate(1160,40) scale(0.938,1)">0.85735</text>
<text transform="translate(1160,74) scale(0.938,1)">0.85615</text>
<text transform="translate(1160,108) scale(0.938,1)">0.85495</text>
<text transform="translate(1160,142) scale(0.938,1)">0.85375</text>
<text transform="translate(1160,176) scale(0.938,1)">0.85255</text>
<text transform="translate(1160,210) scale(0.938,1)">0.85135</text>
<text transform="translate(1160,244) scale(0.938,1)">0.85015</text>
<text transform="translate(1160,278) scale(0.938,1)">0.84895</text>
<text transform="translate(1160,312) scale(0.938,1)">0.84775</text>
<text transform="translate(1160,346) scale(0.938,1)">0.84655</text>
<text transform="translate(1160,380) scale(0.938,1)">0.84535</text>
<text transform="translate(1160,414) scale(0.938,1)">0.84415</text>
<text transform="translate(1160,448) scale(0.938,1)">0.84295</text>
<text transform="translate(1160,482) scale(0.938,1)">0.84175</text>
<text transform="translate(1160,516) scale(0.938,1)">0.84055</text>
<text transform="translate(1160,550) scale(0.938,1)">0.83935</text>
<text transform="translate(1160,584) scale(0.938,1)">0.83815</text>
<text transform="translate(1160,617) scale(0.938,1)">0.83700</text>
<text transform="translate(1160,494) scale(0.938,1)" style="fill:#fff;stroke:#fff">0.84133</text>
<text transform="translate(1153.4,44) scale(0.95,1)" text-anchor="end" class="f">100.0 - 0.85700</text>
<text transform="translate(1153.4,232) scale(0.95,1)" text-anchor="end" class="f">61.8 - 0.85037</text>
<text transform="translate(1153.4,290) scale(0.95,1)" text-anchor="end" class="f">50.0 - 0.84832</text>
<text transform="translate(1153.4,348) scale(0.95,1)" text-anchor="end" class="f">38.2 - 0.84627</text>
<text transform="translate(1153.4,420) scale(0.95,1)" text-anchor="end" class="f">23.6 - 0.84374</text>
<text transform="translate(1153.4,536) scale(0.95,1)" text-anchor="end" class="f">0.0 - 0.83964</text>
<text transform="translate(7.5,631) scale(0.955,1)">RSI(14) 37.2588</text>
<text transform="translate(7.5,713) scale(0.945,1)">MACD(12,26,9) -0.002643 -0.002383</text>
<text transform="translate(1158,629) scale(0.938,1)">100</text>
<text transform="translate(1158,647) scale(0.938,1)">70</text>
<text transform="translate(1158,678) scale(0.938,1)">30</text>
<text transform="translate(1158,695) scale(0.938,1)">0</text>
<text transform="translate(1158,711) scale(0.938,1)">0.002602</text>
<text transform="translate(1158,742) scale(0.938,1)">0.00</text>
<text transform="translate(1158,776) scale(0.938,1)">-0.002949</text>
<text transform="translate(2.4,792) scale(0.965,1)">14 Apr 2020</text>
<text transform="translate(66.4,792) scale(0.965,1)">15 Apr 20:00</text>
<text transform="translate(130.4,792) scale(0.965,1)">17 Apr 04:00</text>
<text transform="translate(194.4,792) scale(0.965,1)">20 Apr 12:00</text>
<text transform="translate(258.4,792) scale(0.965,1)">21 Apr 20:00</text>
<text transform="translate(322.4,792) scale(0.965,1)">23 Apr 04:00</text>
<text transform="translate(386.4,792) scale(0.965,1)">24 Apr 12:00</text>
<text transform="translate(450.4,792) scale(0.965,1)">27 Apr 20:00</text>
<text transform="translate(514.4,792) scale(0.965,1)">29 Apr 04:00</text>
<text transform="translate(578.4,792) scale(0.965,1)">30 Apr 12:00</text>
<text transform="translate(642.4,792) scale(0.965,1)">1 May 20:00</text>
<text transform="translate(706.4,792) scale(0.965,1)">5 May 04:00</text>
<text transform="translate(770.4,792) scale(0.965,1)">6 May 12:00</text>
<text transform="translate(834.4,792) scale(0.965,1)">7 May 20:00</text>
<text transform="translate(898.4,792) scale(0.965,1)">11 May 04:00</text>
<text transform="translate(962.4,792) scale(0.965,1)">12 May 12:00</text>
<text transform="translate(1026.4,792) scale(0.965,1)">13 May 20:00</text>
<text transform="translate(1090.4,792) scale(0.965,1)">15 May 04:00</text>
</svg></body></html>
